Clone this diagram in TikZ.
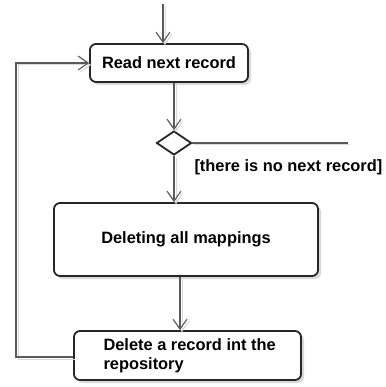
\documentclass[tikz,border=0pt]{standalone}
\usepackage{fontspec}
\setmainfont{Liberation Sans}
\usetikzlibrary{arrows.meta,shapes.geometric,shadows}
\begin{document}
\begin{tikzpicture}[x=1pt,y=-1pt,
  font=\bfseries\fontsize{16.4}{19}\selectfont,
  action/.style={draw=black!85, line width=1.8pt, rounded corners=6pt, fill=white,
    drop shadow={shadow xshift=3pt, shadow yshift=-3pt, opacity=0.25, fill=black!60},
    inner sep=0pt},
  flow/.style={draw=black!65, line width=1.1pt,
    preaction={draw=black!15, line width=1pt, transform canvas={shift={(2pt,-2pt)}}}},
  arr/.style={flow, -{Straight Barb[length=10pt,width=14pt,line width=1.1pt]}},
  decision/.style={diamond, draw=black!85, line width=1.8pt, fill=white, inner sep=0pt,
    minimum width=35pt, minimum height=24pt, aspect=1.46}
]
\useasboundingbox (0,0) rectangle (385,387);

% actions and decision
\node[action, minimum width=158pt, minimum height=38pt] (read) at (169,63) {Read next record};
\node[decision] (dec) at (174,143) {};
\node[action, minimum width=264pt, minimum height=73pt] (mapdel) at (186,239.5) {Deleting all mappings};
\node[action, minimum width=227pt, minimum height=49pt] (recdel) at (187.5,355.5) {};
\node[anchor=west, align=left, font=\bfseries\fontsize{16.4}{19}\selectfont] (recdeltext) at (100,356)
  {Delete a record int the\\repository};

% guard label
\node[anchor=west] (guard) at (191,167) {[there is no next record]};

% free ends
\coordinate (start) at (163,4);
\coordinate (exit) at (348,143);
\coordinate (loopbot) at (16,357);
\coordinate (looptop) at (16,63);

% connectors
\draw[arr] (start) -- (start |- read.north);
\draw[arr] (read.south -| dec.north) -- (dec.north);
\draw[flow] (dec.east) -- (exit);
\draw[arr] (dec.south) -- (dec.south |- mapdel.north);
\draw[arr] (180,0 |- mapdel.south) -- (180,0 |- recdel.north);
\draw[arr] (recdel.west |- loopbot) -- (loopbot) -- (looptop) -- (read.west);
\end{tikzpicture}
\end{document}
